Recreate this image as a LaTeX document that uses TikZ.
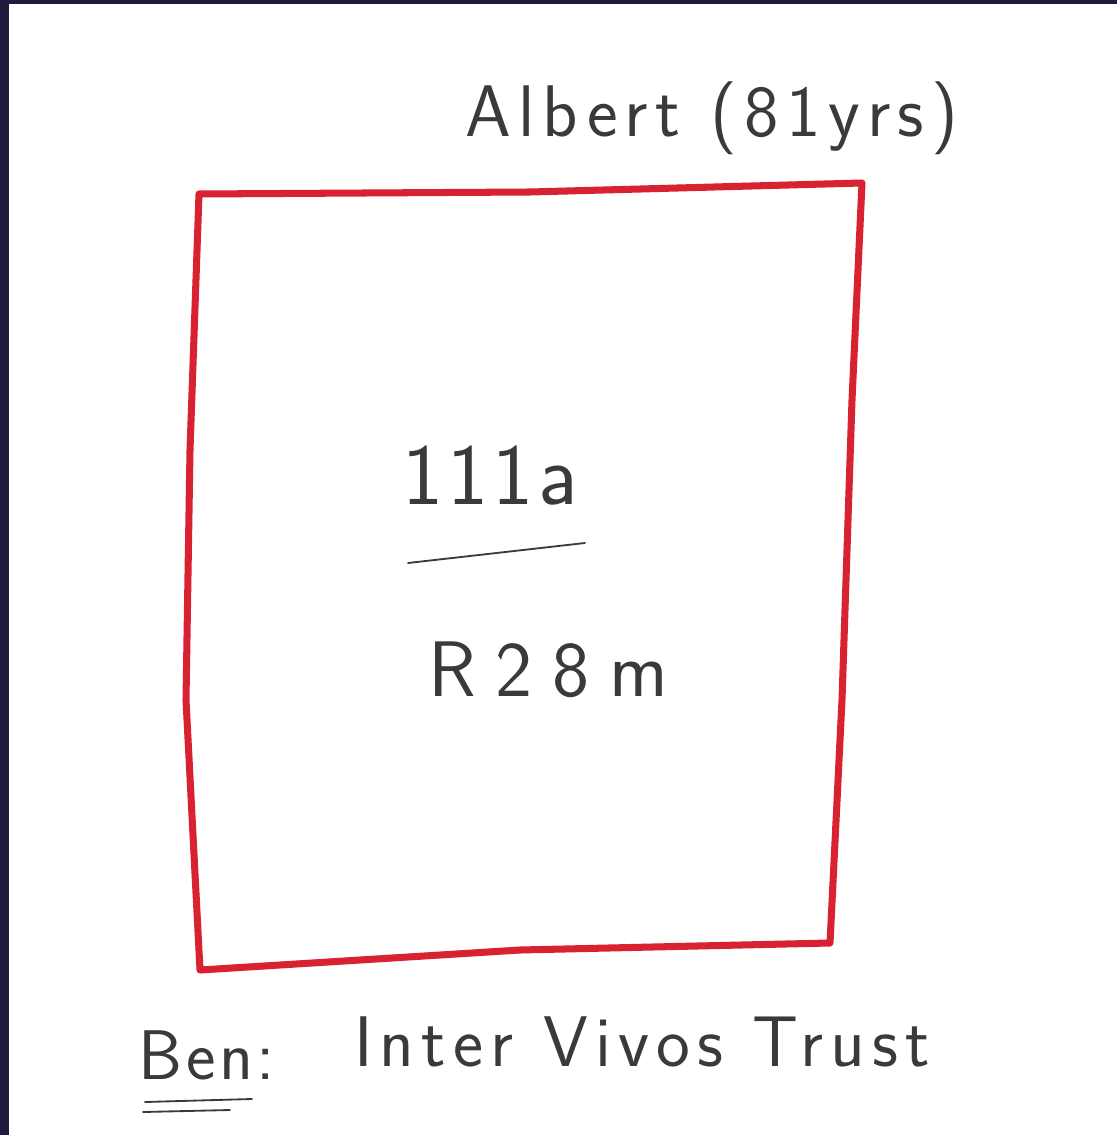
\documentclass[tikz,border=0pt]{standalone}
\usepackage{fontspec}
\usepackage{tikz}
\usetikzlibrary{positioning, calc}
\newfontfamily\handwide{Latin Modern Sans}[LetterSpace=10]
\newfontfamily\handwider{Latin Modern Sans}[LetterSpace=25]
\newfontfamily\handnarrow{Latin Modern Sans}[LetterSpace=5]
\definecolor{framenavy}{HTML}{211A3E}
\definecolor{plotred}{HTML}{D82131}
\definecolor{penink}{HTML}{3A3A3A}

\begin{document}
\begin{tikzpicture}[
    x=0.025cm, y=-0.025cm,
    hand/.style={text=penink, inner sep=0pt},
    plot/.style={draw=plotred, line width=5pt, line join=round, line cap=round},
    stroke/.style={draw=penink, line width=1.3pt, line cap=round}
]
\useasboundingbox (0,0) rectangle (1117,1135);

% Frame
\fill[framenavy] (0,0) rectangle (1117,1135);
\fill[white] (9,4) rectangle (1117,1135);

% Plot outline
\coordinate (tl) at (199,194);
\coordinate (tr) at (862,183);
\coordinate (br) at (830,943);
\coordinate (bl) at (200,970);
\draw[plot] (tl) -- (530,192) -- (tr)
    -- (852,400) -- (842,700) -- (br)
    -- (520,950) -- (bl)
    -- (186,700) -- (190,450) -- cycle;

% Owner
\node[hand, font=\handwide\fontsize{52}{56}\selectfont] (owner) at (712,118) {Albert (81yrs)};

% Plot number and value
\node[hand, font=\handnarrow\fontsize{62}{66}\selectfont] (lot) at (490,476) {111a};
\draw[stroke] (408,563) -- (585,543);
\node[hand, font=\handwider\fontsize{56}{60}\selectfont] (value) at (548,670) {R28m};

% Beneficiary
\node[hand, font=\handnarrow\fontsize{50}{54}\selectfont] (ben) at (207,1055) {Ben:};
\draw[stroke] (145,1102) -- (252,1099);
\draw[stroke] (143,1112) -- (230,1110);
\node[hand, font=\handwide\fontsize{51}{55}\selectfont] (trust) at (642,1042) {Inter Vivos Trust};

\end{tikzpicture}
\end{document}
